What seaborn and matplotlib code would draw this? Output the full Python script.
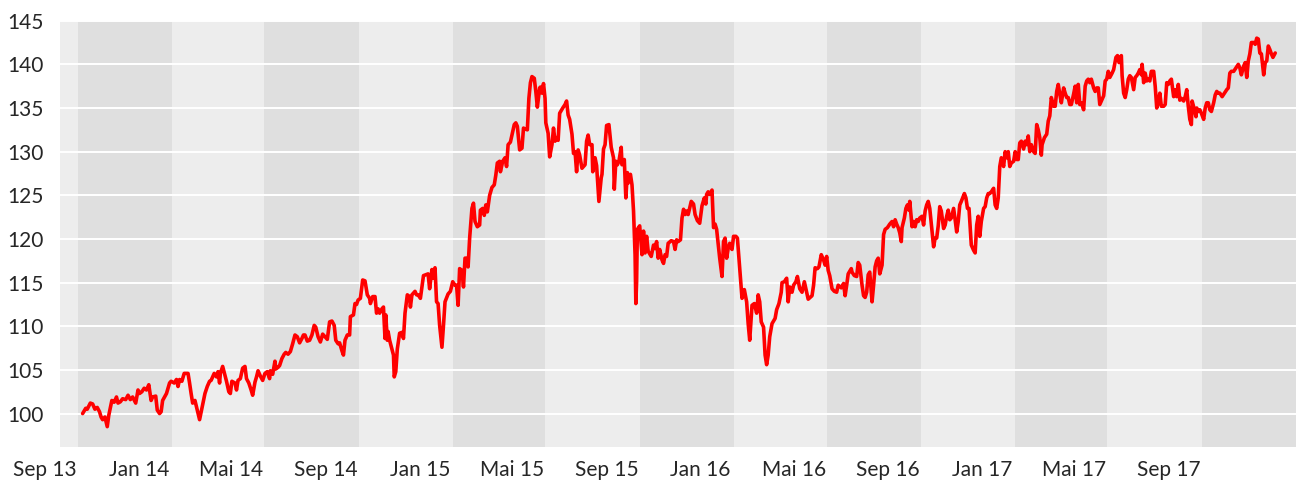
import numpy as np
import pandas as pd
import matplotlib
matplotlib.use("Agg")
import matplotlib.pyplot as plt
import matplotlib.transforms as mtransforms
import seaborn as sns

# ---------------- data ----------------
start_date = "2013-09-01"

days_a = [6,10,12,16,19,22,25,28,30,32,35,38,40,44,47,50,52,55,58,62,65,68,71,75,78,80,83,86,89,92,95,97,101,103,106,108,110,115,119,121,125,128,130,132,135,138,143,145,147,149,152,155,158,161,165,168,171,173,177,180,182,184,185,188,191,193,196,198,200,204,206,208,211,214,217,219,222,225,227,230,232]
vals_a = [100.0,100.6,100.5,101.2,101.1,100.5,100.7,100.2,99.6,99.3,99.6,98.5,99.8,101.5,101.3,101.9,101.2,101.35,101.7,101.6,102.1,101.6,101.9,101.2,102.7,102.3,102.5,102.9,102.7,103.3,101.5,101.9,102.0,100.4,100.0,100.2,101.5,102.3,103.5,103.7,103.5,103.9,103.1,103.9,103.7,104.6,104.6,103.5,102.3,101.2,101.5,100.4,99.3,100.6,102.3,103.1,103.7,103.8,104.6,104.2,104.8,103.5,104.6,105.4,104.4,103.7,102.5,102.3,103.7,103.5,102.7,103.8,104.0,105.2,105.4,104.0,103.5,102.7,102.1,103.6,104.2]

days_b = [234,237,240,243,246,249,250,253,256,257,260,262,265,268,270,273,276,279,282,285,288,291,293,295,298,301,304,307,309,312,315,318,321,324,327,330,333,335,338,340,343,345,347,350,353,354,358,360,362,364,367,370,373,376,379,380,383,386,388,390,392,395,397,399,400,402,403,405,408,410,411,413,415,418,421,423,425,428,431,432,434,436,438,440,442,445]
vals_b = [104.9,104.3,103.8,104.6,104.8,104.0,104.9,104.5,106.0,105.1,105.3,105.5,106.3,106.8,107.0,106.8,107.1,108.0,109.0,108.8,108.1,108.6,109.0,109.0,108.3,108.4,109.0,110.1,109.9,108.8,108.2,109.1,108.8,108.5,110.5,110.6,110.1,108.4,108.0,108.1,107.2,106.7,108.4,109.0,109.0,111.1,111.3,112.6,112.5,113.0,113.2,115.3,115.2,113.6,113.2,112.6,113.4,113.4,111.5,112.0,111.5,112.0,112.2,108.6,111.3,108.4,109.4,108.4,107.4,106.7,104.2,104.8,107.4,109.2,109.3,108.6,111.5,113.6,113.4,112.2,113.6,113.8,114.0,113.6,113.6,113.2]

days_c = [449,452,455,457,460,462,464,466,468,470,473,475,477,481,484,487,490,492,494,496,499,501,503,505,507,509,512,514,516,519,522,523,526,528,530,532,535,538,541,543,545,548,549,552,555,557,559,562,564,567,569,571,574,577,579,581,584,586,588,590,593,595,597,600,601,603,605,607,608,611,613,616,618,620,622,624,626,630,633,635,637,639,642,644,646,648,650,652,655,657,659,661,663,665,668,669,671]
vals_c = [115.8,115.9,116.0,114.3,116.5,115.5,116.7,112.8,112.6,110.1,107.6,110.1,112.8,113.7,114.0,115.1,114.7,114.7,112.4,116.6,116.4,114.5,117.8,117.8,116.8,120.1,123.5,124.1,122.0,121.4,121.6,123.3,123.5,122.7,123.9,123.1,125.0,125.9,126.2,127.3,128.7,128.9,127.7,128.9,129.3,128.3,130.8,131.1,131.9,133.1,133.3,132.9,130.2,130.4,132.7,132.6,132.5,136.1,137.9,138.6,138.4,136.9,135.1,137.3,137.4,136.7,137.8,136.1,133.3,132.1,129.4,130.8,132.7,131.2,131.6,131.3,134.4,135.0,135.4,135.8,134.2,133.7,132.0,129.8,130.0,127.7,130.2,129.6,128.1,128.3,128.5,131.2,131.9,130.8,130.8,127.7,129.1]

days_d = [672,674,677,680,681,683,685,687,690,693,696,697,699,701,703,706,707,710,712,714,715,718,720,722,724,725,726,727,730,733,735,737,739,741,745,748,750,752,754,756,759,761,763,765,767,771,774,776,778,780,783,785,787,789,791,793,797,800,802,805,808,811,814,816,817,819,821,824,826,828,830,832,834,837,839,841,843,845,847,850,852,855,857,859,861,863,866,869,871,873,876,879,882,884,886,888,891,893,895,897,899,902,906]
vals_d = [129.3,128.4,124.3,127.0,127.4,130.3,130.8,133.0,133.1,130.5,129.3,125.7,128.9,128.5,128.9,130.5,128.5,129.1,124.7,127.6,126.4,127.4,126.2,123.2,118.2,112.6,115.1,121.1,121.5,118.2,120.9,118.4,120.3,118.6,118.0,119.3,118.9,119.7,117.8,118.8,117.6,117.2,118.2,118.0,119.5,119.8,119.7,118.8,119.9,119.7,119.9,122.4,123.4,122.8,123.2,122.8,124.3,124.0,122.8,122.1,121.8,123.8,124.7,124.0,125.1,125.4,125.1,125.6,121.3,121.7,121.1,119.5,117.8,115.7,119.7,120.1,117.8,118.9,119.5,118.8,120.3,120.3,120.1,117.8,115.5,113.2,114.2,112.8,110.3,108.4,112.4,112.6,111.5,113.6,112.8,110.5,109.9,106.7,105.6,106.7,108.8,110.3,110.9]

days_e = [908,911,914,915,918,921,923,925,928,930,933,935,938,941,944,947,949,954,956,958,961,963,966,969,971,973,975,977,980,983,986,988,992,995,997,999,1001,1005,1006,1009,1012,1014,1016,1019,1021,1023,1025,1027,1029,1032,1034,1036,1038,1040,1042,1045,1047,1049,1052,1055,1058,1060,1062,1064,1066,1068,1070,1071,1074,1076,1078,1080,1081,1084,1086,1088,1090,1092,1094,1097,1099,1101,1103,1105,1107,1110,1112,1114,1116,1118,1120,1122,1125,1127]
vals_e = [111.9,112.6,113.9,115.0,115.1,115.5,112.8,114.5,113.9,114.7,115.1,115.7,114.3,113.9,115.1,113.9,113.1,113.5,114.7,116.7,116.6,116.8,118.2,117.6,117.0,118.0,116.4,115.8,114.3,114.0,113.9,114.7,114.4,114.9,113.5,114.7,116.0,116.6,116.2,115.8,115.7,117.3,117.0,114.7,113.5,113.3,113.9,115.9,116.2,112.8,114.7,116.8,117.5,117.8,116.0,117.0,120.5,121.1,121.3,121.7,122.0,121.4,122.2,121.7,121.3,120.7,119.7,121.3,122.4,123.5,123.9,123.3,124.3,121.4,122.0,121.4,122.2,122.0,122.4,122.6,121.6,123.2,123.9,124.3,123.5,120.8,119.1,120.1,120.1,121.5,123.7,123.2,121.2,121.6]

days_f = [1129,1131,1133,1135,1138,1140,1142,1144,1146,1148,1152,1154,1156,1158,1161,1164,1166,1168,1170,1172,1174,1177,1179,1181,1183,1185,1187,1190,1192,1194,1196,1198,1200,1203,1205,1207,1209,1211,1213,1216,1218,1220,1222,1224,1226,1229,1231,1233,1235,1237,1239,1242,1244,1246,1248,1250,1252,1253,1256,1259,1261,1263,1265,1268,1270,1272,1274,1276,1278,1281,1283,1285,1287,1289,1291,1294,1296,1298,1300,1302,1304,1307,1309,1311,1313,1315,1317,1320,1322,1324,1326,1328,1330,1333,1335]
vals_f = [122.6,123.3,122.2,122.4,123.5,122.2,120.8,122.0,123.9,124.3,125.2,124.7,123.5,123.5,119.3,118.7,118.4,121.6,122.6,120.3,122.0,123.5,123.7,124.7,125.2,125.2,125.4,125.8,123.9,123.5,124.7,128.3,129.3,128.3,130.0,129.3,130.0,128.3,128.7,128.9,130.0,129.1,129.1,131.0,131.2,130.3,131.2,130.8,131.8,130.0,130.8,130.0,129.8,133.1,132.5,131.6,129.6,130.8,131.6,132.0,133.5,134.1,136.2,135.2,135.2,136.9,137.7,136.6,135.6,137.3,136.7,136.2,136.2,135.4,135.4,136.6,137.5,135.6,137.7,135.4,135.6,134.8,137.5,138.1,138.3,137.9,138.3,137.3,136.9,137.3,137.3,135.4,135.8,136.4,138.1]

days_g = [1337,1339,1341,1344,1346,1349,1351,1353,1356,1357,1359,1361,1363,1365,1367,1369,1372,1374,1376,1378,1380,1382,1383,1385,1387,1389,1391,1393,1395,1398,1400,1402,1404,1406,1408,1411,1413,1415,1417,1419,1421,1424,1426,1428,1430,1432,1434,1437,1439,1441,1443,1445,1447,1448,1451,1453,1454,1456,1458,1460,1463,1465,1467,1469,1471,1473,1476,1478,1480,1482,1484,1487,1490,1493,1495,1497,1499,1502,1505,1508,1510,1512,1515,1517,1519,1521,1523,1525,1528,1530,1532,1534,1536,1538,1541,1543,1545,1547,1549,1551,1553,1556]
vals_g = [138.3,139.2,138.5,139.0,139.4,140.8,141.0,140.2,141.0,138.7,136.7,136.2,137.1,138.3,138.7,138.5,137.1,138.5,138.7,139.0,139.4,138.8,140.0,137.9,139.0,138.1,138.3,138.1,139.2,139.2,137.5,135.0,135.6,136.7,135.2,135.2,135.4,137.9,137.7,138.1,138.3,136.3,137.1,136.3,137.7,135.9,136.1,135.8,136.3,137.1,135.2,133.7,133.1,135.8,134.8,134.0,135.0,134.6,134.8,134.4,133.7,135.0,135.6,135.6,134.8,134.6,135.6,136.5,136.9,136.7,136.7,136.3,136.7,137.1,137.3,139.0,139.2,139.2,139.6,140.0,139.6,138.8,139.8,140.2,138.5,140.4,141.2,142.5,142.5,142.3,143.0,142.9,141.3,141.2,138.8,140.2,140.4,142.1,141.7,141.2,140.8,141.3]

tick_dates = ["2013-09-01", "2014-01-01", "2014-05-01", "2014-09-01", "2015-01-01",
              "2015-05-01", "2015-09-01", "2016-01-01", "2016-05-01", "2016-09-01",
              "2017-01-01", "2017-05-01", "2017-09-01"]
tick_labels = ["Sep 13", "Jan 14", "Mai 14", "Sep 14", "Jan 15", "Mai 15", "Sep 15",
               "Jan 16", "Mai 16", "Sep 16", "Jan 17", "Mai 17", "Sep 17"]
y_ticks = [100, 105, 110, 115, 120, 125, 130, 135, 140, 145]

# ---------------- build frame ----------------
segs = [(days_a, vals_a), (days_b, vals_b), (days_c, vals_c), (days_d, vals_d),
        (days_e, vals_e), (days_f, vals_f), (days_g, vals_g)]
for i, (d, v) in enumerate(segs):
    assert len(d) == len(v), (i, len(d), len(v))
all_days = np.concatenate([d for d, _ in segs])
all_vals = np.concatenate([v for _, v in segs])
t0 = pd.Timestamp(start_date)
df = pd.DataFrame({"date": t0 + pd.to_timedelta(all_days, unit="D"), "value": all_vals})

# ---------------- style ----------------
sns.set_style("white")
plt.rcParams["font.family"] = ["Lato", "DejaVu Sans"]
text_color = "#262626"
light_bg = "#EDEDED"
dark_bg = "#DFDFDF"

fig = plt.figure(figsize=(12.96, 4.82), dpi=100)
ax = fig.add_axes([60 / 1296, 1 - 447 / 482, 1 - 60 / 1296, (447 - 20.7) / 482])
ax.set_facecolor(light_bg)

# alternating four-month bands
band_edges = pd.date_range("2013-09-01", "2018-01-01", freq="4MS")
for i in range(len(band_edges) - 1):
    if i % 2 == 0:
        ax.axvspan(band_edges[i], band_edges[i + 1], color=dark_bg, lw=0, zorder=0)

for y in y_ticks:
    ax.axhline(y, color="white", lw=1.4, zorder=1)

sns.lineplot(data=df, x="date", y="value", ax=ax, color="#FF0000", lw=2.6,
             estimator=None, sort=False, zorder=3)

ax.set_xlim(t0 - pd.Timedelta(days=23.4), pd.Timestamp("2018-01-01"))
ax.set_ylim(96.17, 145)
ax.set_yticks(y_ticks)
ax.set_yticklabels([str(y) for y in y_ticks])
ax.set_xticks(pd.to_datetime(tick_dates))
ax.set_xticklabels(tick_labels)
ax.set_xlabel("")
ax.set_ylabel("")
ax.grid(False)
for s in ax.spines.values():
    s.set_visible(False)
ax.tick_params(axis="both", length=0, labelsize=15, colors=text_color)
ax.tick_params(axis="y", pad=12)
ax.tick_params(axis="x", pad=9)

offset = mtransforms.ScaledTranslation(-33 / 100, 0, fig.dpi_scale_trans)
for lab in ax.get_xticklabels():
    lab.set_transform(lab.get_transform() + offset)

fig.savefig("out.png", dpi=100)
